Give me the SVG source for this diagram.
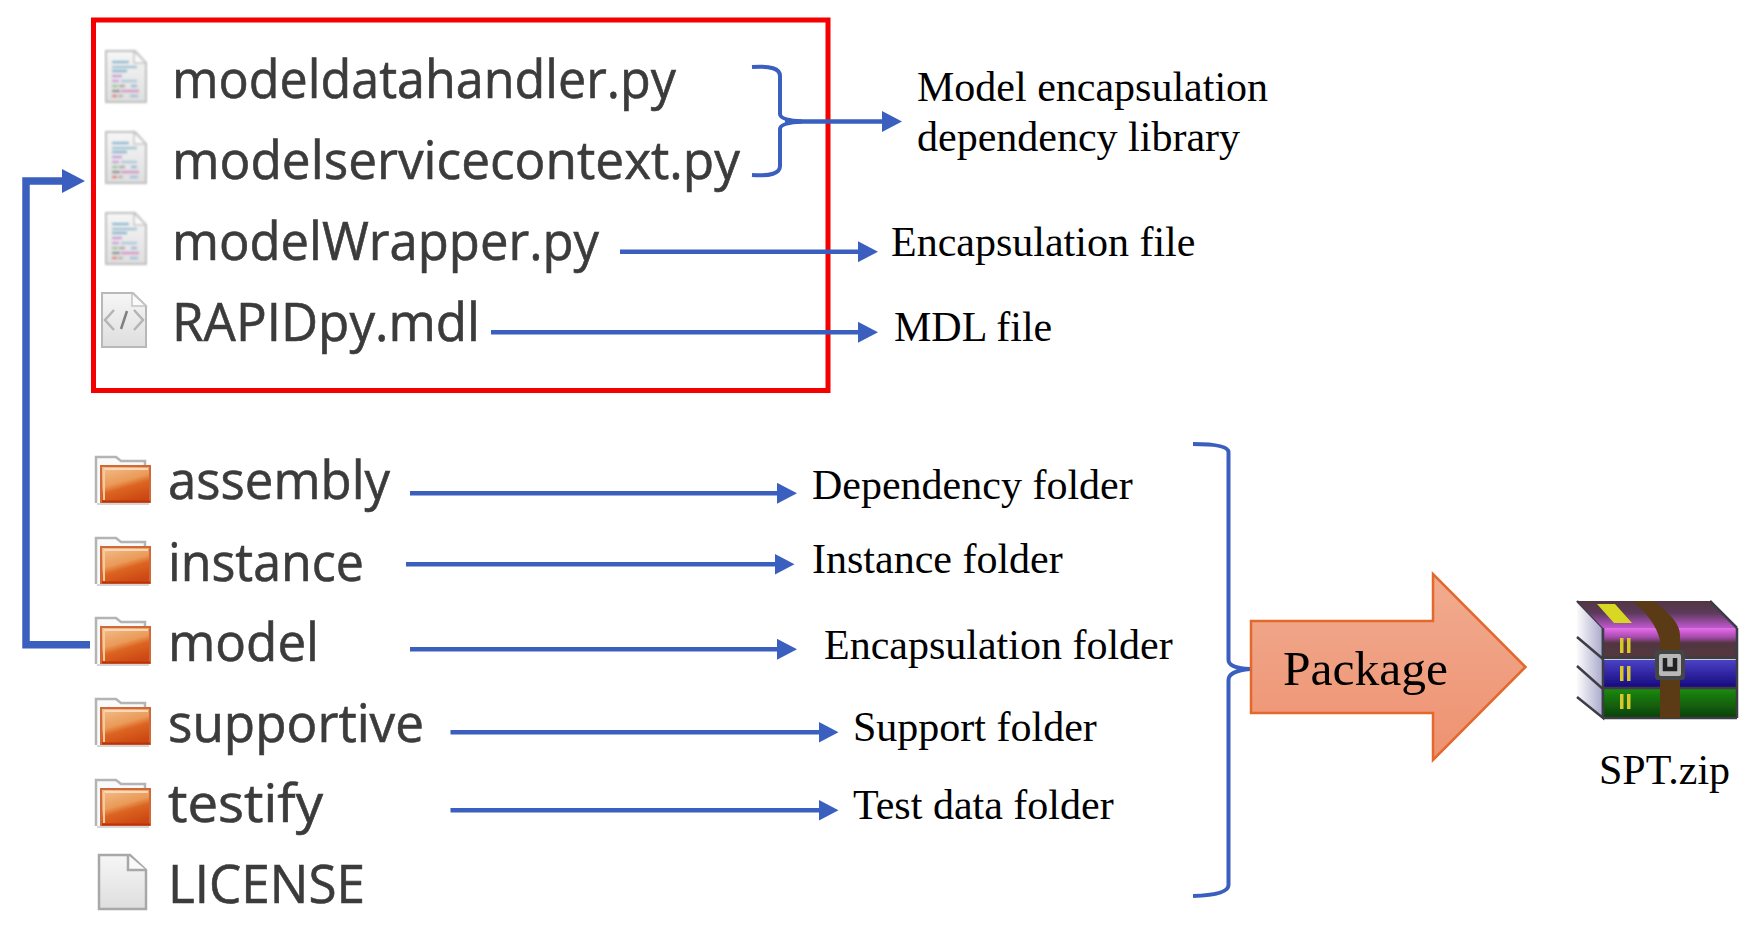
<svg xmlns="http://www.w3.org/2000/svg" xmlns:xlink="http://www.w3.org/1999/xlink" width="1760" height="928" viewBox="0 0 1760 928">
<style>
.fn{font-family:"Open Sans","Noto Sans",sans-serif;font-size:53px;fill:#3b3b3b;stroke:#3b3b3b;stroke-width:0.6px}
.lb{font-family:"Liberation Serif","Times New Roman",serif;font-size:42px;fill:#000}
.ln{fill:none;stroke:#3a5fbe;stroke-width:4.5}
.br{fill:none;stroke:#3a5fbe;stroke-width:4}
.th{fill:none;stroke:#3a5fbe;stroke-width:7.5}
</style>
<defs>
<marker id="ah" markerUnits="userSpaceOnUse" viewBox="0 0 20 21" refX="1" refY="10.5" markerWidth="20" markerHeight="21" orient="auto"><path d="M0 0L20 10.5L0 21Z" fill="#3a5fbe"/></marker>
<marker id="ahb" markerUnits="userSpaceOnUse" viewBox="0 0 23 24" refX="1" refY="12" markerWidth="23" markerHeight="24" orient="auto"><path d="M0 0L23 12L0 24Z" fill="#3a5fbe"/></marker>
<filter id="soft" x="-5%" y="-5%" width="110%" height="110%"><feGaussianBlur stdDeviation="0.7"/></filter>
<filter id="softer" x="-5%" y="-5%" width="110%" height="110%"><feGaussianBlur stdDeviation="1"/></filter>
<filter id="tx" x="-2%" y="-5%" width="104%" height="110%"><feGaussianBlur stdDeviation="0.5"/></filter>
<linearGradient id="pg" x1="0" y1="0" x2="0" y2="1"><stop offset="0" stop-color="#f6f6f6"/><stop offset="1" stop-color="#dedede"/></linearGradient>
<linearGradient id="fo" x1="0.2" y1="0" x2="0.6" y2="1"><stop offset="0" stop-color="#f2bb86"/><stop offset="0.45" stop-color="#ea9a58"/><stop offset="0.62" stop-color="#dc6522"/><stop offset="1" stop-color="#cc4712"/></linearGradient>
<linearGradient id="pk" x1="0" y1="0" x2="0" y2="1"><stop offset="0" stop-color="#f1ab8f"/><stop offset="1" stop-color="#ee9271"/></linearGradient>
<linearGradient id="pu" x1="0" y1="0" x2="0" y2="1"><stop offset="0" stop-color="#e66fe8"/><stop offset="0.3" stop-color="#a84bb0"/><stop offset="0.5" stop-color="#513640"/><stop offset="1" stop-color="#523840"/></linearGradient>
<linearGradient id="pt" x1="0" y1="0" x2="0" y2="1"><stop offset="0" stop-color="#513640"/><stop offset="0.45" stop-color="#5d3a5c"/><stop offset="1" stop-color="#c058d0"/></linearGradient>
<linearGradient id="bu" x1="0" y1="0" x2="0" y2="1"><stop offset="0" stop-color="#4a42c4"/><stop offset="1" stop-color="#170a80"/></linearGradient>
<linearGradient id="gr" x1="0" y1="0" x2="0" y2="1"><stop offset="0" stop-color="#1c8a0e"/><stop offset="1" stop-color="#0c3f06"/></linearGradient>
<linearGradient id="pa" x1="0" y1="0" x2="1" y2="0"><stop offset="0" stop-color="#fbfbfb"/><stop offset="1" stop-color="#a8a8cc"/></linearGradient>
<g id="pyicon" filter="url(#softer)">
<path d="M1 1H30L41 13V52H1Z" fill="url(#pg)" stroke="#bdbdbd" stroke-width="2"/>
<path d="M29 1V13H41Z" fill="#fafafa" stroke="#c4c4c4" stroke-width="1.5"/>
<g stroke-width="2.500" fill="none" opacity="0.8">
<path d="M7 12H24" stroke="#6fa8c8"/><path d="M7 17H32" stroke="#8fb8d0"/><path d="M7 21H22" stroke="#6fa8c8"/>
<path d="M7 26H17" stroke="#c088d0"/><path d="M7 31H14" stroke="#c88ad8"/><path d="M16 31H32" stroke="#9fc0d8"/>
<path d="M7 36H13" stroke="#80c080"/><path d="M14 36H20" stroke="#999"/><path d="M26 36H32" stroke="#80b0d0"/>
<path d="M7 41H15" stroke="#777"/><path d="M16 41H34" stroke="#d080c0"/>
<path d="M7 46H12" stroke="#e06060"/><path d="M13 46H18" stroke="#aaa"/><path d="M25 46H33" stroke="#90b8d8"/>
</g>
</g>
<g id="foldericon" filter="url(#soft)">
<path d="M2 48V2H22L27 6H51V12" fill="#fafafa" stroke="#b4b4b4" stroke-width="2.500"/>
<path d="M7 11H56V47H7Z" fill="url(#fo)" stroke="#d06838" stroke-width="2"/>
<path d="M10 14H54" stroke="#f8d8b8" stroke-width="2" fill="none"/>
<path d="M10 14V45" stroke="#f6c8a0" stroke-width="2" fill="none"/>
<path d="M8 46.500H56" stroke="#bb3208" stroke-width="2" fill="none"/>
<path d="M3 49H55" stroke="#c8c8c8" stroke-width="1.500" fill="none"/>
</g>
</defs>
<rect width="1760" height="928" fill="#fff"/>

<g id="red-box"><rect x="93.500" y="20" width="734.500" height="370.500" fill="none" stroke="#f40000" stroke-width="5"/></g>

<g id="file-modeldatahandler"><use xlink:href="#pyicon" href="#pyicon" x="105" y="50"/><text class="fn" filter="url(#tx)" x="172" y="98" textLength="504" lengthAdjust="spacingAndGlyphs">modeldatahandler.py</text></g>
<g id="file-modelservicecontext"><use xlink:href="#pyicon" href="#pyicon" x="105" y="131"/><text class="fn" filter="url(#tx)" x="172" y="179" textLength="568" lengthAdjust="spacingAndGlyphs">modelservicecontext.py</text></g>
<g id="file-modelWrapper"><use xlink:href="#pyicon" href="#pyicon" x="105" y="212"/><text class="fn" filter="url(#tx)" x="172" y="260" textLength="427" lengthAdjust="spacingAndGlyphs">modelWrapper.py</text></g>
<g id="file-RAPIDpy"><g filter="url(#soft)"><path d="M102 293H133L146 306V347H102Z" fill="url(#pg)" stroke="#b8b8b8" stroke-width="2"/><path d="M132 293V306H146Z" fill="#fafafa" stroke="#c4c4c4" stroke-width="1.500"/><path d="M114 310L105 320L114 330M134 310L143 320L134 330" fill="none" stroke="#b4b4b4" stroke-width="2.500"/><path d="M127 311L121 329" fill="none" stroke="#808080" stroke-width="2.500"/></g><text class="fn" filter="url(#tx)" x="172" y="341" textLength="308" lengthAdjust="spacingAndGlyphs">RAPIDpy.mdl</text></g>

<g id="folder-assembly"><use xlink:href="#foldericon" href="#foldericon" x="94" y="455"/><text class="fn" filter="url(#tx)" x="168" y="499" textLength="222" lengthAdjust="spacingAndGlyphs">assembly</text></g>
<g id="folder-instance"><use xlink:href="#foldericon" href="#foldericon" x="94" y="536"/><text class="fn" filter="url(#tx)" x="168" y="581" textLength="196" lengthAdjust="spacingAndGlyphs">instance</text></g>
<g id="folder-model"><use xlink:href="#foldericon" href="#foldericon" x="94" y="616"/><text class="fn" filter="url(#tx)" x="168" y="661" textLength="151" lengthAdjust="spacingAndGlyphs">model</text></g>
<g id="folder-supportive"><use xlink:href="#foldericon" href="#foldericon" x="94" y="697"/><text class="fn" filter="url(#tx)" x="168" y="742" textLength="256" lengthAdjust="spacingAndGlyphs">supportive</text></g>
<g id="folder-testify"><use xlink:href="#foldericon" href="#foldericon" x="94" y="778"/><text class="fn" filter="url(#tx)" x="168" y="822" textLength="155" lengthAdjust="spacingAndGlyphs">testify</text></g>
<g id="file-LICENSE"><g filter="url(#soft)"><path d="M99 855H130L146 870V909H99Z" fill="url(#pg)" stroke="#a8a8a8" stroke-width="2.500"/><path d="M128 855V870H146" fill="#fafafa" stroke="#a8a8a8" stroke-width="2.500"/></g><text class="fn" filter="url(#tx)" x="168" y="903" textLength="197" lengthAdjust="spacingAndGlyphs">LICENSE</text></g>

<g id="connectors">
<path class="th" d="M90 644.700H26V181H63" marker-end="url(#ahb)"/>
<path class="br" d="M752 67Q780 65 780 76V114Q780 120 802 121.500Q780 123 780 129V166Q780 177 752 175"/>
<path class="ln" d="M785 121.500H883" marker-end="url(#ah)"/>
<path class="ln" d="M620 251.700H859" marker-end="url(#ah)"/>
<path class="ln" d="M491 332.300H859" marker-end="url(#ah)"/>
<path class="ln" d="M410 493.300H778" marker-end="url(#ah)"/>
<path class="ln" d="M406 564.300H775.500" marker-end="url(#ah)"/>
<path class="ln" d="M410 649.300H778" marker-end="url(#ah)"/>
<path class="ln" d="M450.500 732.300H819.500" marker-end="url(#ah)"/>
<path class="ln" d="M450.500 810.300H819.500" marker-end="url(#ah)"/>
<path class="br" d="M1193 444Q1228 444 1228.500 452V660Q1228.500 668 1250 669Q1228.500 671 1228.500 680V885Q1228.500 895 1193 896"/>
</g>

<g id="label-lib"><text class="lb" x="917" y="101">Model encapsulation</text><text class="lb" x="917" y="151">dependency library</text></g>
<g id="label-enc-file"><text class="lb" x="891" y="256">Encapsulation file</text></g>
<g id="label-mdl"><text class="lb" x="894" y="341">MDL file</text></g>
<g id="label-dep"><text class="lb" x="812" y="499">Dependency folder</text></g>
<g id="label-inst"><text class="lb" x="812" y="573">Instance folder</text></g>
<g id="label-enc-folder"><text class="lb" x="824" y="659">Encapsulation folder</text></g>
<g id="label-support"><text class="lb" x="853" y="741">Support folder</text></g>
<g id="label-test"><text class="lb" x="853" y="819">Test data folder</text></g>

<g id="package"><path d="M1251 621H1433V574L1525.500 667L1433 760V713H1251Z" fill="url(#pk)" stroke="#e2682c" stroke-width="2.500"/><text x="1283" y="685" style="font-family:'Liberation Serif',serif;font-size:49.500px;fill:#000">Package</text></g>

<g id="zip-icon"><g filter="url(#soft)">
<path d="M1577 601L1603 628V658L1577 638Z" fill="url(#pa)"/><path d="M1577 637L1603 659V688L1577 667Z" fill="url(#pa)"/><path d="M1577 666L1603 689V718L1577 697Z" fill="url(#pa)"/>
<path d="M1577 601L1603 628V658M1577 637L1603 659M1577 666L1603 689V718L1577 697" fill="none" stroke="#3c3c44" stroke-width="2.500"/>
<path d="M1577 601H1710L1737 628H1603Z" fill="url(#pt)"/>
<rect x="1603" y="628" width="134" height="30" fill="url(#pu)"/>
<rect x="1604" y="660" width="133" height="27" fill="url(#bu)"/>
<rect x="1604" y="689" width="133" height="29" fill="url(#gr)"/>
<path d="M1603 658H1737M1603 688H1737M1603 718H1737M1737 628V718" fill="none" stroke="#3c3c44" stroke-width="2.500"/>
<path d="M1603 628V718M1710 601L1737 628" fill="none" stroke="#3c3c44" stroke-width="2.500"/>
<path d="M1597 604H1615L1632 623H1614Z" fill="#d8d820"/>
<path d="M1633 601H1653Q1680 620 1680 635V718H1660V640Q1655 620 1633 601Z" fill="#5a3a14"/>
<g fill="#d8c82a"><rect x="1620" y="638" width="3.500" height="15"/><rect x="1627" y="638" width="3.500" height="15"/><rect x="1620" y="666" width="3.500" height="15"/><rect x="1627" y="666" width="3.500" height="15"/><rect x="1620" y="694" width="3.500" height="15"/><rect x="1627" y="694" width="3.500" height="15"/></g>
<rect x="1655" y="650" width="30" height="30" rx="3" fill="#444"/>
<rect x="1659" y="654" width="22" height="22" rx="2" fill="#b8b8b8"/>
<path d="M1665 658V669H1675V658" fill="none" stroke="#222" stroke-width="4.500"/>
</g><text x="1599" y="784" style="font-family:'Liberation Serif',serif;font-size:42px;fill:#000">SPT.zip</text></g>
</svg>
